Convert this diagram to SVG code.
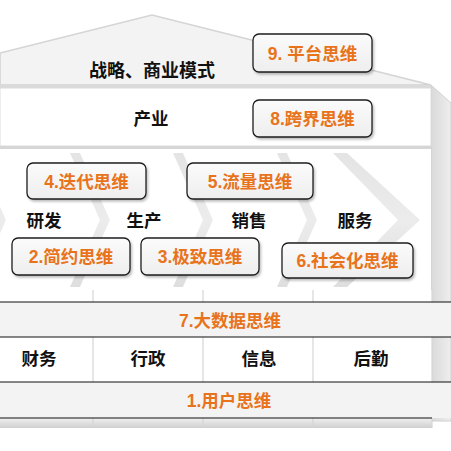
<svg xmlns="http://www.w3.org/2000/svg" width="451" height="451" viewBox="0 0 451 451">
<defs>
<style>
.lbl{font-family:"Liberation Sans","Noto Sans CJK SC",sans-serif;font-weight:bold;font-size:17.5px;fill:#111;text-anchor:middle}
.ot{font-family:"Liberation Sans","Noto Sans CJK SC",sans-serif;font-weight:bold;font-size:17.5px;fill:#E8731B;text-anchor:middle}
.box{fill:url(#boxg);stroke:#1e1e1e;stroke-width:1.3;filter:url(#sh)}
.side{fill:url(#chg);stroke:none}
.face{fill:#ffffff;stroke:none}
.band{fill:#f3f3f3;stroke:none}
.bl{stroke:#111;stroke-width:1.2}
.div{stroke:#d6d6d6;stroke-width:1.2}
</style>
<linearGradient id="boxg" x1="0" y1="0" x2="0" y2="1"><stop offset="0" stop-color="#fbfbfb"/><stop offset="1" stop-color="#eeeeee"/></linearGradient>
<linearGradient id="chg" x1="0" y1="0" x2="0" y2="1"><stop offset="0" stop-color="#e4e4e4"/><stop offset="0.5" stop-color="#ececec"/><stop offset="1" stop-color="#dedede"/></linearGradient>
<linearGradient id="sideg" x1="0" y1="0" x2="1" y2="0"><stop offset="0" stop-color="#d9d9d9"/><stop offset="1" stop-color="#eeeeee"/></linearGradient>
<linearGradient id="botg" x1="0" y1="0" x2="0" y2="1"><stop offset="0" stop-color="#f0f0f0"/><stop offset="1" stop-color="#cfcfcf"/></linearGradient>
<filter id="sh" x="-10%" y="-10%" width="130%" height="140%"><feDropShadow dx="1.5" dy="2" stdDeviation="1.2" flood-color="#000" flood-opacity="0.25"/></filter>
</defs>
<rect width="451" height="451" fill="#ffffff"/>
<g id="house">
<polygon points="0,53 152,15 431,85 0,85" fill="#f3f3f3" stroke="#d4d4d4" stroke-width="1.6"/>
<polygon points="431,85 451,103 451,421 431,421" fill="url(#sideg)" stroke="#d0d0d0" stroke-width="1"/>
<rect x="0" y="85" width="431" height="3" fill="#dadada"/>
<rect x="0" y="88" width="431" height="58" fill="#ffffff" stroke="#dcdcdc" stroke-width="1"/>
<rect x="0" y="146" width="431" height="3" fill="#d6d6d6"/>
<rect x="0" y="149" width="431" height="141" fill="#ffffff"/>
<rect x="0" y="290" width="432" height="128" fill="#ffffff"/>
<rect x="0" y="418" width="432" height="10" fill="url(#botg)"/>
<line x1="432" y1="418" x2="442" y2="410" stroke="#c8c8c8" stroke-width="1"/>
<line class="div" x1="93" y1="290" x2="93" y2="428"/>
<line class="div" x1="203" y1="290" x2="203" y2="428"/>
<line class="div" x1="313" y1="290" x2="313" y2="428"/>
<line class="div" x1="432" y1="290" x2="432" y2="428"/>
</g>
<g id="chevrons">
<polygon class="side" points="-128,153 -24,153 6,220 -24,287 -128,287 -98,220"/>
<polygon class="face" points="-128,153 -34,153 -4,220 -34,287 -128,287 -98,220"/>
<polygon class="side" points="-24,153 80,153 110,220 80,287 -24,287 6,220"/>
<polygon class="face" points="-24,153 70,153 100,220 70,287 -24,287 6,220"/>
<polygon class="side" points="80,153 183,153 213,220 183,287 80,287 110,220"/>
<polygon class="face" points="80,153 173,153 203,220 173,287 80,287 110,220"/>
<polygon class="side" points="183,153 287,153 317,220 287,287 183,287 213,220"/>
<polygon class="face" points="183,153 277,153 307,220 277,287 183,287 213,220"/>
<polygon class="side" points="287,153 347,153 420,220 347,287 287,287 317,220"/>
<polygon class="face" points="287,153 333,153 398,220 333,287 287,287 317,220"/>
</g>
<g id="connectors"/>
<g id="n-strategy"><text class="lbl" x="152" y="76.5" style="font-size:18px">战略、商业模式</text></g>
<g id="n-industry"><text class="lbl" x="151" y="124.5">产业</text></g>
<g id="n-rd"><text class="lbl" x="44" y="226.5">研发</text></g>
<g id="n-prod"><text class="lbl" x="144" y="226.5">生产</text></g>
<g id="n-sales"><text class="lbl" x="249" y="226.5">销售</text></g>
<g id="n-service"><text class="lbl" x="355" y="226.5">服务</text></g>
<g id="n-bigdata">
<rect class="band" x="0" y="302" width="451" height="35"/>
<line class="bl" x1="0" y1="302" x2="451" y2="302"/>
<line class="bl" x1="0" y1="337" x2="451" y2="337"/>
<text class="ot" x="230" y="326.5">7.大数据思维</text>
</g>
<g id="n-finance"><text class="lbl" x="39" y="364.5">财务</text></g>
<g id="n-admin"><text class="lbl" x="148" y="364.5">行政</text></g>
<g id="n-info"><text class="lbl" x="259" y="364.5">信息</text></g>
<g id="n-logistics"><text class="lbl" x="371" y="364.5">后勤</text></g>
<g id="n-user">
<rect class="band" x="0" y="382" width="451" height="36"/>
<line class="bl" x1="0" y1="382" x2="451" y2="382"/>
<line class="bl" x1="0" y1="418" x2="432" y2="418"/>
<text class="ot" x="229" y="406.5">1.用户思维</text>
</g>
<g id="n-platform"><rect class="box" x="253" y="34" width="119" height="38" rx="6"/><text class="ot" x="312.5" y="59.5">9. 平台思维</text></g>
<g id="n-crossover"><rect class="box" x="253" y="100" width="119" height="37" rx="6"/><text class="ot" x="312.5" y="125">8.跨界思维</text></g>
<g id="n-iterate"><rect class="box" x="27" y="163" width="119" height="36" rx="6"/><text class="ot" x="86.5" y="187.5">4.迭代思维</text></g>
<g id="n-traffic"><rect class="box" x="187" y="163" width="126" height="36" rx="6"/><text class="ot" x="250" y="187.5">5.流量思维</text></g>
<g id="n-simple"><rect class="box" x="12" y="238" width="118" height="37" rx="6"/><text class="ot" x="71" y="263">2.简约思维</text></g>
<g id="n-extreme"><rect class="box" x="141" y="238" width="118" height="37" rx="6"/><text class="ot" x="200" y="263">3.极致思维</text></g>
<g id="n-social"><rect class="box" x="282" y="243" width="131" height="35" rx="6"/><text class="ot" x="347.5" y="267">6.社会化思维</text></g>
</svg>
